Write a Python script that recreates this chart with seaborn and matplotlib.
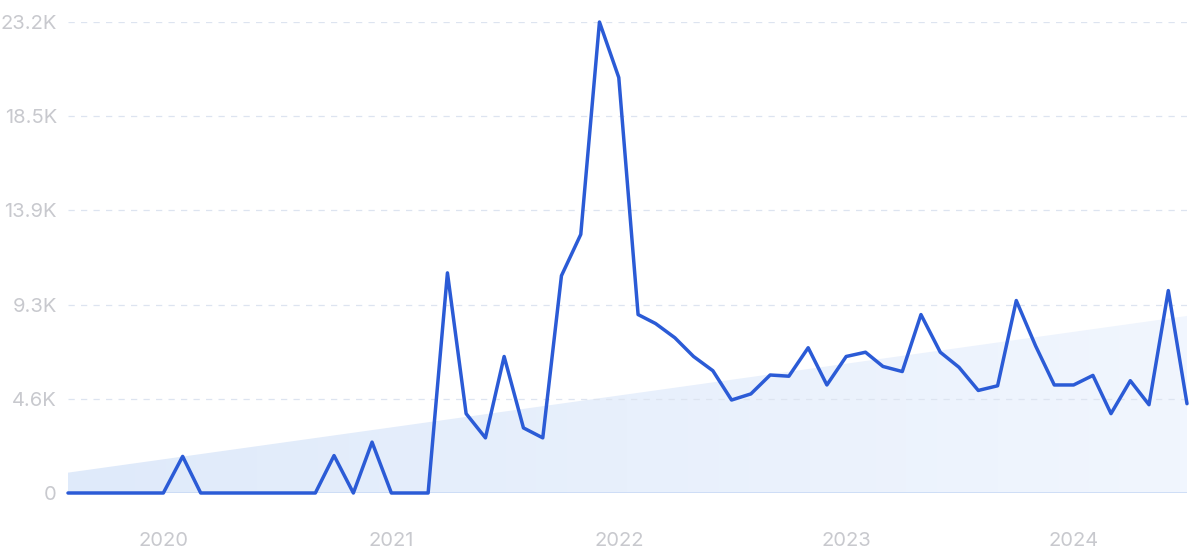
import numpy as np
import pandas as pd
import seaborn as sns
import matplotlib.pyplot as plt
import matplotlib.dates as mdates
from matplotlib.patches import Polygon
from matplotlib.colors import LinearSegmentedColormap

# Monthly search volume, Aug 2019 - Jul 2024
months = pd.date_range("2019-08-01", periods=60, freq="MS")
volume = [
    0, 0, 0, 0, 0, 0, 1800, 0, 0, 0,
    0, 0, 0, 0, 1840, 0, 2500, 0, 0, 0,
    10820, 3900, 2710, 6710, 3200, 2710, 10680, 12710, 23150, 20420,
    8770, 8330, 7630, 6710, 6010, 4570, 4870, 5800, 5740, 7140,
    5310, 6710, 6920, 6220, 5970, 8770, 6920, 6180, 5040, 5270,
    9460, 7230, 5310, 5310, 5780, 3900, 5520, 4340, 9950, 4390,
]

# trend band (start / end value)
trend = [1000, 8700]

y_ticks = [0, 4630, 9260, 13890, 18520, 23150]
y_labels = ["0", "4.6K", "9.3K", "13.9K", "18.5K", "23.2K"]
year_ticks = ["2020", "2021", "2022", "2023", "2024"]

df = pd.DataFrame({"month": months, "volume": volume})

sns.set_theme(style="white")
plt.rcParams["font.family"] = ["Inter", "DejaVu Sans"]

fig = plt.figure(figsize=(12, 5.57), dpi=100)
ax = fig.add_axes([68 / 1200, 1 - 493 / 557, (1187 - 68) / 1200, (493 - 22) / 557])

x0 = mdates.date2num(months[0])
x1 = mdates.date2num(months[-1])

# gradient trend fill
poly = Polygon([(x0, 0), (x0, trend[0]), (x1, trend[1]), (x1, 0)], closed=True,
               facecolor="none", edgecolor="none")
ax.add_patch(poly)
cmap = LinearSegmentedColormap.from_list("trend", ["#dfeafa", "#f1f6fe"])
grad = np.linspace(0, 1, 256).reshape(1, -1)
im = ax.imshow(grad, cmap=cmap, extent=[x0, x1, 0, trend[1]], aspect="auto",
               zorder=0.5, interpolation="bicubic")
im.set_clip_path(poly)

# dashed grid
for t in y_ticks[1:]:
    ax.axhline(t, color="#dde4f0", linestyle=(0, (5, 5)), linewidth=0.9, zorder=1)
ax.axhline(0, color="#c9daf5", linewidth=1.2, zorder=1)

sns.lineplot(data=df, x="month", y="volume", ax=ax, color="#2b5bd6",
             linewidth=2.5, zorder=3, clip_on=False)

ax.set_xlim(x0, x1)
ax.set_ylim(0, 23150)
ax.set_yticks(y_ticks)
ax.set_yticklabels(y_labels)
ax.set_xticks([mdates.date2num(pd.Timestamp(f"{y}-01-01")) for y in year_ticks])
ax.set_xticklabels(year_ticks)
ax.tick_params(axis="y", length=0, pad=8, labelsize=14.5, labelcolor="#c8c9ce")
ax.tick_params(axis="x", length=0, pad=28, labelsize=14.5, labelcolor="#c8c9ce")
ax.set_xlabel("")
ax.set_ylabel("")
for s in ax.spines.values():
    s.set_visible(False)

fig.savefig("out.png", dpi=100)
